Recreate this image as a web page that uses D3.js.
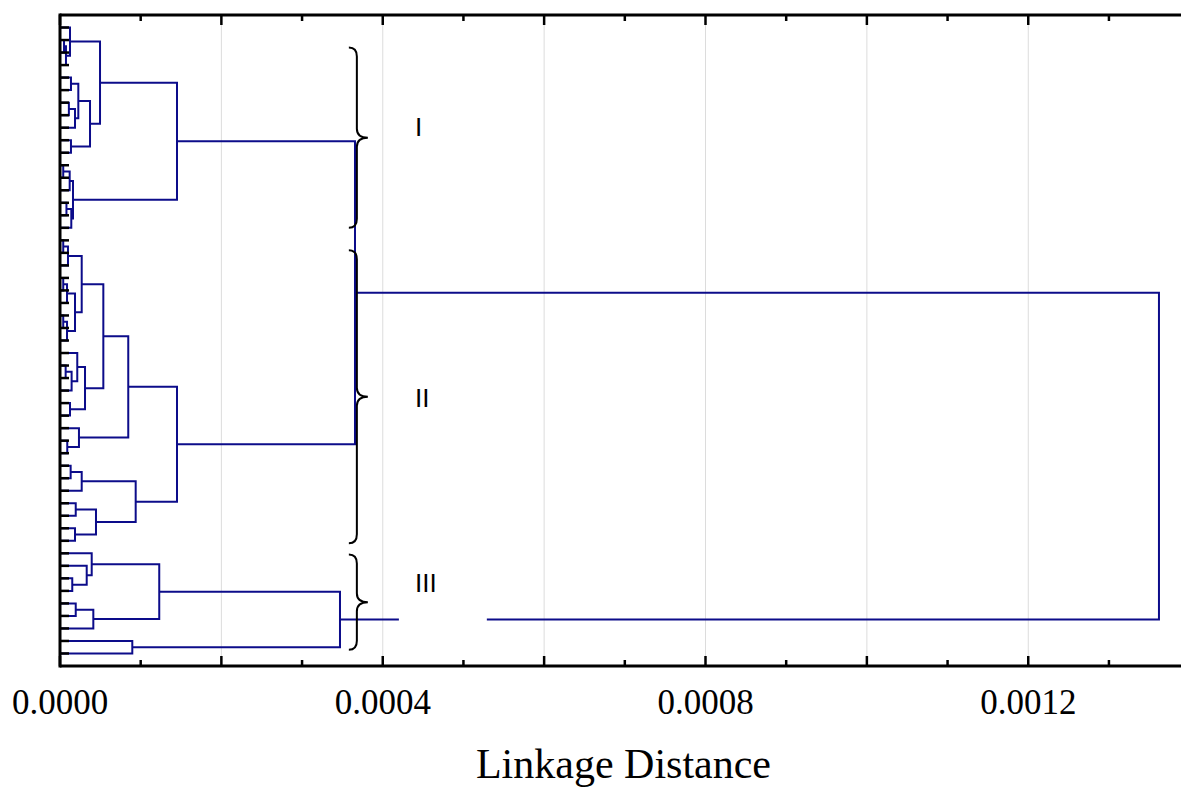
<!DOCTYPE html>
<html>
<head>
<meta charset="utf-8">
<script src="https://cdn.jsdelivr.net/npm/d3@7/dist/d3.min.js"></script>
<style>
body { margin: 0; background: #fff; }
</style>
</head>
<body>
<script>
// leaves, top to bottom (51 objects)
var leaves = d3.range(1, 52);

// merges: [childA, childB, linkage distance]
// ids 0..50 are leaves, merged nodes get ids 51, 52, ... in this order
var merges = [
    // cluster I
    [1, 2, 0.0000050],
    [51, 3, 0.0000074],
    [0, 52, 0.0000124],
    [4, 5, 0.0000136],
    [6, 7, 0.0000110],
    [55, 8, 0.0000186],
    [54, 56, 0.0000227],
    [9, 10, 0.0000136],
    [57, 58, 0.0000372],
    [53, 59, 0.0000496],
    [11, 12, 0.0000040],
    [61, 13, 0.0000120],
    [14, 15, 0.0000080],
    [63, 16, 0.0000140],
    [62, 64, 0.0000161],
    [60, 65, 0.0001450],
    // cluster II
    [17, 18, 0.0000040],
    [67, 19, 0.0000099],
    [20, 21, 0.0000040],
    [69, 22, 0.0000087],
    [23, 24, 0.0000040],
    [71, 25, 0.0000087],
    [70, 72, 0.0000186],
    [68, 73, 0.0000269],
    [27, 28, 0.0000070],
    [75, 29, 0.0000144],
    [26, 76, 0.0000214],
    [30, 31, 0.0000124],
    [77, 78, 0.0000310],
    [74, 79, 0.0000537],
    [33, 34, 0.0000090],
    [32, 81, 0.0000235],
    [80, 82, 0.0000846],
    [35, 36, 0.0000132],
    [84, 37, 0.0000269],
    [38, 39, 0.0000195],
    [40, 41, 0.0000186],
    [86, 87, 0.0000446],
    [85, 88, 0.0000938],
    [83, 89, 0.0001450],
    // cluster III
    [44, 45, 0.0000152],
    [43, 91, 0.0000331],
    [42, 92, 0.0000393],
    [46, 47, 0.0000195],
    [94, 48, 0.0000413],
    [93, 95, 0.0001230],
    [49, 50, 0.0000896],
    [96, 97, 0.0003470],
    // top
    [66, 90, 0.0003656],
    [99, 98, 0.0013620]
];

// axis
var majorTicks = [0, 0.0002, 0.0004, 0.0006, 0.0008, 0.0010, 0.0012];
var minorTicks = [0.0001, 0.0003, 0.0005, 0.0007, 0.0009, 0.0011, 0.0013];
var tickLabels = [0, 0.0004, 0.0008, 0.0012];
var gridValues = [0.0002, 0.0004, 0.0006, 0.0008, 0.0010, 0.0012];

// cluster braces, in leaf positions
var groupNames = ["I", "II", "III"];
var groupStart = [1.6, 17.8, 42.1];
var groupEnd = [16.0, 41.2, 49.7];
var groupLabelAt = [7.95, 29.6, 44.4];

// blank part of the line from cluster III
var lineGap = [0.00042, 0.000529];

var width = 1181;
var height = 789;

var plot = {top: 15, bottom: 666, left: 60};

var svg = d3.select("body")
    .append("svg")
    .attr("width", width)
    .attr("height", height);

var x = d3.scaleLinear()
    .domain([0, 0.0014])
    .range([plot.left, plot.left + 0.0014 * 806875]);

var y = d3.scaleLinear()
    .domain([-1, leaves.length])
    .range([plot.top, plot.bottom]);

// gridlines
svg.selectAll(".grid")
    .data(gridValues)
    .enter().append("line")
    .attr("x1", function(d) { return x(d); })
    .attr("x2", function(d) { return x(d); })
    .attr("y1", plot.top)
    .attr("y2", plot.bottom)
    .attr("stroke", "#dcdcdc")
    .attr("stroke-width", 1);

// node positions
var pos = leaves.map(function(d, i) {
    return {x: x(0), y: y(i)};
});
merges.forEach(function(m) {
    pos.push({x: x(m[2]), y: (pos[m[0]].y + pos[m[1]].y) / 2});
});

svg.selectAll(".link")
    .data(merges)
    .enter().append("path")
    .attr("class", "link")
    .attr("fill", "none")
    .attr("stroke", "#0c0c8a")
    .attr("stroke-width", 2)
    .attr("d", function(m, i) {
        var a = pos[m[0]], b = pos[m[1]], n = pos[leaves.length + i];
        return "M" + a.x + "," + a.y + "H" + n.x + "V" + b.y + "H" + b.x;
    });

// gap in the cluster III line
var gapY = pos[leaves.length + merges.length - 3].y;
svg.append("rect")
    .attr("x", x(lineGap[0]))
    .attr("y", gapY - 4)
    .attr("width", x(lineGap[1]) - x(lineGap[0]))
    .attr("height", 8)
    .attr("fill", "#fff");

// braces
var braceX = x(0.000358);
var braceW = 19;

function bracePath(y0, y1) {
    var ym = (y0 + y1) / 2;
    var x1 = braceX + 8, x2 = braceX + braceW;
    var r = 9;
    return "M" + braceX + "," + y0 +
        "Q" + x1 + "," + y0 + " " + x1 + "," + (y0 + r) +
        "L" + x1 + "," + (ym - r) +
        "Q" + x1 + "," + ym + " " + x2 + "," + ym +
        "Q" + x1 + "," + ym + " " + x1 + "," + (ym + r) +
        "L" + x1 + "," + (y1 - r) +
        "Q" + x1 + "," + y1 + " " + braceX + "," + y1;
}

svg.selectAll(".brace")
    .data(groupNames)
    .enter().append("path")
    .attr("fill", "none")
    .attr("stroke", "#000")
    .attr("stroke-width", 2)
    .attr("d", function(d, i) {
        return bracePath(y(groupStart[i]), y(groupEnd[i]));
    });

svg.selectAll(".glabel")
    .data(groupNames)
    .enter().append("text")
    .attr("x", x(0.00044))
    .attr("y", function(d, i) { return y(groupLabelAt[i]); })
    .attr("dy", "0.35em")
    .style("font-family", "'Liberation Sans', Arial, sans-serif")
    .style("font-size", "26px")
    .text(function(d) { return d; });

// leaf ticks on the left axis
svg.selectAll(".leaftick")
    .data(leaves)
    .enter().append("line")
    .attr("x1", plot.left)
    .attr("x2", plot.left + 9)
    .attr("y1", function(d, i) { return y(i); })
    .attr("y2", function(d, i) { return y(i); })
    .attr("stroke", "#000")
    .attr("stroke-width", 2.5);

// frame lines
svg.append("line")
    .attr("x1", plot.left).attr("x2", width)
    .attr("y1", plot.top).attr("y2", plot.top)
    .attr("stroke", "#000").attr("stroke-width", 3);
svg.append("line")
    .attr("x1", plot.left).attr("x2", width)
    .attr("y1", plot.bottom).attr("y2", plot.bottom)
    .attr("stroke", "#000").attr("stroke-width", 3);
svg.append("line")
    .attr("x1", plot.left).attr("x2", plot.left)
    .attr("y1", plot.top - 1.5).attr("y2", plot.bottom + 1.5)
    .attr("stroke", "#000").attr("stroke-width", 3);

// x ticks, bottom pointing up, top pointing down
[[majorTicks, 10], [minorTicks, 6]].forEach(function(t) {
    svg.selectAll(null)
        .data(t[0])
        .enter().append("line")
        .attr("x1", function(d) { return x(d); })
        .attr("x2", function(d) { return x(d); })
        .attr("y1", plot.bottom)
        .attr("y2", plot.bottom - t[1])
        .attr("stroke", "#000").attr("stroke-width", 2.5);
    svg.selectAll(null)
        .data(t[0])
        .enter().append("line")
        .attr("x1", function(d) { return x(d); })
        .attr("x2", function(d) { return x(d); })
        .attr("y1", plot.top)
        .attr("y2", plot.top + t[1])
        .attr("stroke", "#000").attr("stroke-width", 2.5);
});

svg.selectAll(".ticklabel")
    .data(tickLabels)
    .enter().append("text")
    .attr("x", function(d) { return x(d); })
    .attr("y", 714)
    .attr("text-anchor", "middle")
    .style("font-family", "'Liberation Serif', 'Times New Roman', serif")
    .style("font-size", "35px")
    .text(function(d) { return d3.format(".4f")(d); });

// axis title
svg.append("text")
    .attr("x", (width + plot.left) / 2 + 3)
    .attr("y", 778)
    .attr("text-anchor", "middle")
    .style("font-family", "'Liberation Serif', 'Times New Roman', serif")
    .style("font-size", "42px")
    .text("Linkage Distance");
</script>
</body>
</html>
